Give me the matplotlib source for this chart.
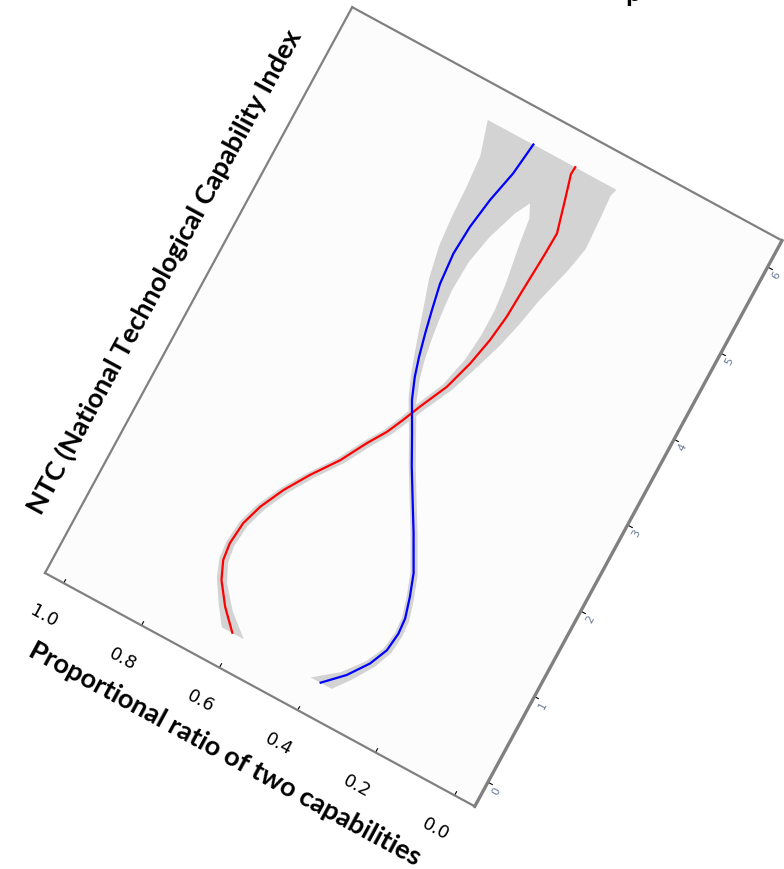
import matplotlib
matplotlib.use("Agg")
import matplotlib.pyplot as plt
from matplotlib.transforms import Affine2D
import mpl_toolkits.axisartist.floating_axes as floating_axes
from mpl_toolkits.axisartist.grid_finder import FixedLocator, DictFormatter

# blue curve: NTC value, ratio, half width of the grey band
blue_ntc = [0.08, 0.275, 0.494, 0.695, 0.90, 1.07, 1.29, 1.52, 1.88, 2.17, 2.47, 2.77,
            3.07, 3.29, 3.49, 3.73, 3.98, 4.25, 4.59, 4.91, 5.25, 5.60, 5.96]
blue_ratio = [0.383, 0.340, 0.306, 0.287, 0.282, 0.285, 0.299, 0.317, 0.360, 0.397, 0.435, 0.470,
              0.506, 0.525, 0.538, 0.551, 0.563, 0.575, 0.581, 0.577, 0.566, 0.549, 0.540]
blue_band = [0.027, 0.016, 0.012, 0.010, 0.009, 0.009, 0.009, 0.009, 0.009, 0.009, 0.009, 0.009,
             0.010, 0.011, 0.013, 0.017, 0.022, 0.029, 0.038, 0.048, 0.062, 0.085, 0.118]

# red curve
red_ntc = [0.097, 0.296, 0.519, 0.707, 0.89, 1.136, 1.367, 1.631, 1.895, 2.176, 2.457, 2.66,
           2.845, 3.047, 3.358, 3.681, 3.989, 4.28, 4.579, 4.998, 5.275, 5.614, 5.877, 5.96]
red_ratio = [0.611, 0.653, 0.689, 0.707, 0.712, 0.707, 0.691, 0.663, 0.627, 0.583, 0.549, 0.521,
             0.502, 0.483, 0.451, 0.430, 0.416, 0.408, 0.405, 0.400, 0.398, 0.418, 0.434, 0.433]
red_band = [0.028, 0.018, 0.013, 0.011, 0.010, 0.010, 0.010, 0.010, 0.010, 0.010, 0.010, 0.010,
            0.010, 0.011, 0.012, 0.016, 0.024, 0.032, 0.042, 0.062, 0.072, 0.088, 0.100, 0.104]

ratio_ticks = [0.0, 0.2, 0.4, 0.6, 0.8, 1.0]
ntc_ticks = [0, 1, 2, 3, 4, 5, 6]

fig = plt.figure(figsize=(7.84, 8.69), dpi=100)

# the panel is turned 28.5 deg clockwise and the ratio axis runs from 1 to 0
tr = (Affine2D().translate(-1.045, 0.28).scale(-445, 97.7)
      .rotate_deg(-28.5).translate(45, 296))

grid_helper = floating_axes.GridHelperCurveLinear(
    tr, extremes=(-0.054, 1.045, -0.28, 6.31),
    grid_locator1=FixedLocator(ratio_ticks),
    tick_formatter1=DictFormatter({v: f"{v:.1f}" for v in ratio_ticks}),
    grid_locator2=FixedLocator(ntc_ticks),
    tick_formatter2=DictFormatter({v: str(v) for v in ntc_ticks}))

ax = fig.add_axes([0, 0, 1, 1], axes_class=floating_axes.FloatingAxes,
                  grid_helper=grid_helper)
ax.set_xlim(0, 784)
ax.set_ylim(0, 869)
ax.patch.set_facecolor("#fcfcfc")

aux = ax.get_aux_axes(tr)
aux.patch = ax.patch
ax.patch.zorder = 0.9

def lo_hi(vals, band):
    return [v - b for v, b in zip(vals, band)], [v + b for v, b in zip(vals, band)]

red_lo, red_hi = lo_hi(red_ratio, red_band)
blue_lo, blue_hi = lo_hi(blue_ratio, blue_band)

aux.fill_betweenx(red_ntc, red_lo, red_hi, color="#d3d3d3", lw=0)
aux.plot(red_ratio, red_ntc, color="red", lw=1.6, solid_joinstyle="round")
aux.fill_betweenx(blue_ntc, blue_lo, blue_hi, color="#d3d3d3", lw=0)
aux.plot(blue_ratio, blue_ntc, color="blue", lw=1.6, solid_joinstyle="round")

for side in ["left", "right", "bottom", "top"]:
    ax.axis[side].line.set_color("#808080")
    ax.axis[side].line.set_linewidth(1.6)
ax.axis["left"].line.set_linewidth(2.4)

# the flip of the ratio axis puts labels on the inner side, so turn them round
ax.axis["bottom"].set_axis_direction("top")
ax.axis["right"].set_axis_direction("left")
ax.axis["left"].set_ticklabel_direction("+")
ax.axis["left"].major_ticks.set_tick_out(True)

ax.axis["right"].toggle(ticks=False, ticklabels=False, label=True)
ax.axis["top"].toggle(ticks=False, ticklabels=False, label=False)

# keep the ratio labels on the outer side but read them the right way up
xt = ax.axis["bottom"].major_ticklabels
xt.set_fontsize(13)
xt.set_rotation(0)
xt.set_va("top")
xt.set_pad(12)

yt = ax.axis["left"].major_ticklabels
yt.set_fontsize(8)
yt.set_color("#6b7b9a")
yt.set_rotation(0)
yt.set_pad(5)

xl = ax.axis["bottom"].label
xl.set_text("Proportional ratio of two capabilities")
xl.set_rotation(0)
xl.set_va("top")
xl.set_pad(23)
yl = ax.axis["right"].label
yl.set_text("NTC (National Technological Capability Index")
yl.set_pad(19)
for lab in [xl, yl]:
    lab.set_fontsize(19.5)
    lab.set_fontweight("bold")
    lab.set_fontfamily("Lato")

# descender of a title that sits above the picture
fig.text(625 / 784, 1 - 1 / 869, "p", fontsize=20, fontweight="bold",
         family="Lato", va="baseline")

fig.savefig("out.png", dpi=100, facecolor="white")
